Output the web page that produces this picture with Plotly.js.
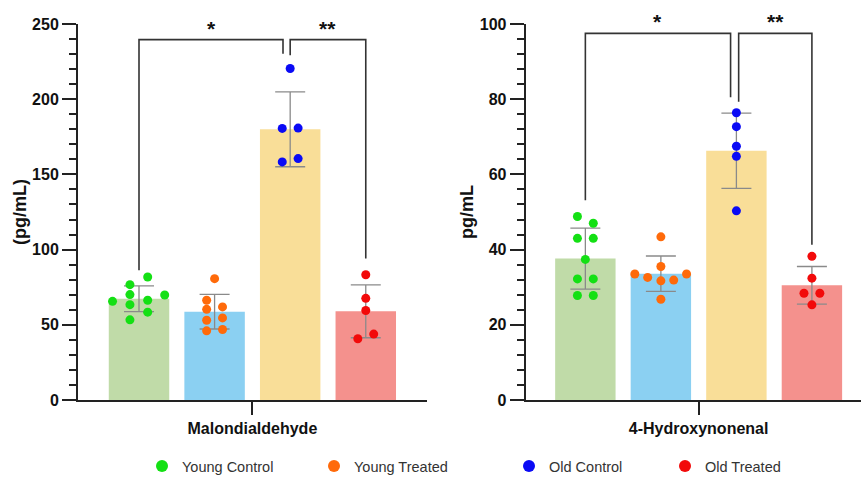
<!DOCTYPE html>
<html>
<head>
<meta charset="utf-8">
<script src="https://cdn.plot.ly/plotly-3.0.1.min.js"></script>
<style>
html,body{margin:0;padding:0;background:#fff;overflow:hidden;}
#chart{position:absolute;left:0;top:0;width:861px;height:477px;}
</style>
</head>
<body>
<div id="chart"></div>
<script>
// ---------- data ----------
const groups = ["Young Control", "Young Treated", "Old Control", "Old Treated"];
const panelLabels = ["Malondialdehyde", "4-Hydroxynonenal"];
const yTitles = ["(pg/mL)", "pg/mL"];

// bar means and SD
const mdaMean = [67.3, 58.7, 180.0, 59.0];
const mdaSD   = [8.6, 11.5, 24.9, 17.6];
const hneMean = [37.6, 33.6, 66.3, 30.5];
const hneSD   = [8.1, 4.7, 10.0, 5.0];

// individual points: values and horizontal jitter (in category units)
const mdaYC  = [81.8, 76.7, 70.1, 69.8, 65.6, 66.3, 63.4, 58.4, 53.3];
const mdaYCj = [0.115, -0.12, -0.12, 0.34, -0.35, 0.115, -0.12, 0.115, -0.12];
const mdaYT  = [80.7, 66.3, 60.3, 61.9, 53.0, 54.6, 46.0, 46.9];
const mdaYTj = [0.0, -0.105, -0.105, 0.105, -0.105, 0.105, -0.105, 0.105];
const mdaOC  = [220.4, 180.6, 180.8, 158.3, 160.5];
const mdaOCj = [0.0, -0.105, 0.105, -0.105, 0.105];
const mdaOT  = [83.3, 67.6, 59.5, 43.8, 40.7];
const mdaOTj = [0.0, 0.0, 0.0, 0.105, -0.105];

const hneYC  = [48.8, 47.0, 43.0, 43.0, 37.4, 32.2, 32.2, 27.8, 27.8];
const hneYCj = [-0.105, 0.105, -0.105, 0.105, 0.0, -0.105, 0.105, -0.105, 0.105];
const hneYT  = [43.4, 35.5, 33.5, 33.5, 32.6, 31.9, 31.7, 26.8];
const hneYTj = [0.0, 0.0, -0.345, 0.34, -0.175, 0.17, 0.0, 0.0];
const hneOC  = [76.4, 72.7, 67.5, 64.8, 50.3];
const hneOCj = [0.0, 0.0, 0.0, 0.0, 0.0];
const hneOT  = [38.2, 32.4, 28.4, 28.4, 25.3];
const hneOTj = [0.0, 0.0, -0.105, 0.105, 0.0];

// significance brackets: [xLeft, xRight, yTop, yLeftEnd, yRightEnd, label]
const mdaBrackets = [[0, 1.905, 239.6, 86.2, 230.3, "*"], [2.0, 3, 239.6, 229.2, 94.0, "**"]];
const hneBrackets = [[0, 1.923, 97.5, 53.1, 80.5, "*"], [2.03, 3, 97.5, 79.3, 41.3, "**"]];

// ---------- styles ----------
const barColors = ["#C0DBA8", "#8BD0F2", "#F9DE98", "#F4918D"];
const dotColors = ["#14E014", "#FF6A0A", "#0A0AF5", "#F20A0A"];
const FONT = "Liberation Sans, Arial, Helvetica, sans-serif";
const cats = [0, 1, 2, 3];

const traces = [];
function addPanel(mean, sd, pts, xa, ya, first) {
  traces.push({
    type: "bar", x: cats, y: mean, width: 0.8,
    marker: {color: barColors, line: {width: 0}},
    error_y: {type: "data", array: sd, visible: true, color: "#8a8a8a", thickness: 1.3, width: 15},
    xaxis: xa, yaxis: ya, showlegend: false, hoverinfo: "skip"
  });
  pts.forEach((p, i) => {
    traces.push({
      type: "scatter", mode: "markers",
      x: p[1].map(j => cats[i] + j), y: p[0],
      marker: {color: dotColors[i], size: 9, line: {width: 0}},
      name: groups[i], xaxis: xa, yaxis: ya,
      showlegend: first, legend: i === 0 ? "legend" : "legend" + (i + 1)
    });
  });
}
addPanel(mdaMean, mdaSD, [[mdaYC, mdaYCj], [mdaYT, mdaYTj], [mdaOC, mdaOCj], [mdaOT, mdaOTj]], "x", "y", true);
addPanel(hneMean, hneSD, [[hneYC, hneYCj], [hneYT, hneYTj], [hneOC, hneOCj], [hneOT, hneOTj]], "x2", "y2", false);

const shapes = [];
const annotations = [];
function addBrackets(br, xr, yr) {
  br.forEach(b => {
    shapes.push({
      type: "path", xref: xr, yref: yr,
      path: `M ${b[0]},${b[3]} L ${b[0]},${b[2]} L ${b[1]},${b[2]} L ${b[1]},${b[4]}`,
      line: {color: "#333", width: 1.6}
    });
    annotations.push({
      xref: xr, yref: yr, x: (b[0] + b[1]) / 2, y: b[2], yanchor: "bottom",
      yshift: -2, text: "<b>" + b[5] + "</b>", showarrow: false,
      font: {family: FONT, size: 21, color: "#111"}
    });
  });
}
addBrackets(mdaBrackets, "x", "y");
addBrackets(hneBrackets, "x2", "y2");

const W = 861, H = 477;
const yDom = [1 - 400 / H, 1 - 24 / H];
function yAxis(range, dtick, minorDtick, title) {
  return {
    domain: yDom, range: range, dtick: dtick, tick0: 0,
    showline: true, linecolor: "#222", linewidth: 2,
    ticks: "outside", ticklen: 14, tickwidth: 2, tickcolor: "#222",
    minor: {dtick: minorDtick, ticks: "outside", ticklen: 7, tickwidth: 2, tickcolor: "#222"},
    showgrid: false, zeroline: false,
    tickfont: {family: FONT, size: 16, color: "#111", weight: "bold"},
    title: {text: "<b>" + title + "</b>", font: {family: FONT, size: 18, color: "#111"}, standoff: 1},
    fixedrange: true
  };
}
function xAxis(domain, range, label) {
  return {
    domain: domain, range: range, tickvals: [1.5], ticktext: ["<b>" + label + "</b>"],
    showline: true, linecolor: "#222", linewidth: 2,
    ticks: "outside", ticklen: 13, tickwidth: 2, tickcolor: "#222",
    showgrid: false, zeroline: false,
    tickfont: {family: FONT, size: 16, color: "#111"},
    fixedrange: true
  };
}

const legendBase = {orientation: "h", xref: "container", yref: "container",
  y: 1 - 466 / H, yanchor: "middle", xanchor: "left",
  font: {family: FONT, size: 14.5, color: "#333"}, itemsizing: "constant",
  bgcolor: "rgba(0,0,0,0)", borderwidth: 0, tracegroupgap: 0};
const legX = [142, 314, 509, 665];

const layout = {
  width: W, height: H,
  margin: {l: 0, r: 0, t: 0, b: 0, autoexpand: false},
  paper_bgcolor: "#fff", plot_bgcolor: "#fff",
  xaxis: Object.assign(xAxis([78 / W, 427 / W], [-0.807, 3.81], panelLabels[0]), {anchor: "y"}),
  yaxis: Object.assign(yAxis([0, 250], 50, 10, yTitles[0]), {anchor: "x"}),
  xaxis2: Object.assign(xAxis([525.7 / W, 1], [-0.79, 3.65], panelLabels[1]), {anchor: "y2"}),
  yaxis2: Object.assign(yAxis([0, 100], 20, 4, yTitles[1]), {anchor: "x2"}),
  shapes: shapes,
  annotations: annotations,
  legend: Object.assign({}, legendBase, {x: legX[0] / W}),
  legend2: Object.assign({}, legendBase, {x: legX[1] / W}),
  legend3: Object.assign({}, legendBase, {x: legX[2] / W}),
  legend4: Object.assign({}, legendBase, {x: legX[3] / W}),
  showlegend: true
};

Plotly.newPlot("chart", traces, layout, {staticPlot: true, displayModeBar: false});
</script>
</body>
</html>
